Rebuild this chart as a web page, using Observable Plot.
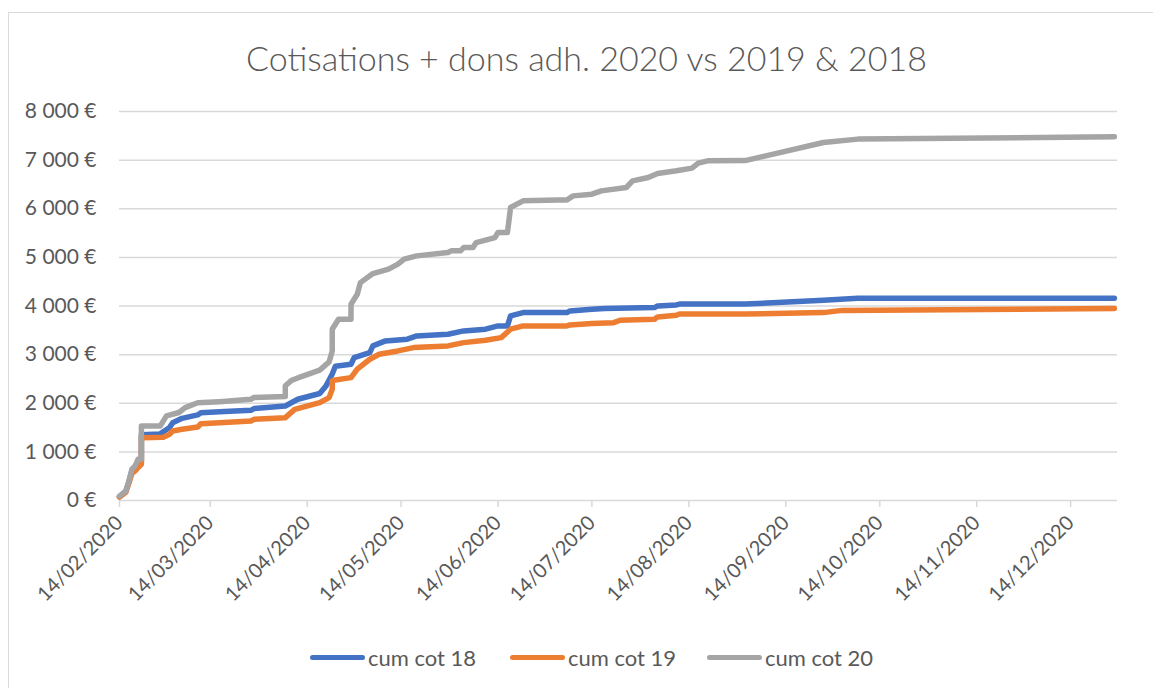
<!DOCTYPE html>
<html>
<head>
<meta charset="utf-8">
<script src="https://cdn.jsdelivr.net/npm/d3@7"></script>
<script src="https://cdn.jsdelivr.net/npm/@observablehq/plot@0.6"></script>
<style>
  html, body { margin: 0; padding: 0; background: #fff; }
  body { width: 1153px; height: 688px; overflow: hidden; position: relative; font-family: Lato, "Noto Sans", sans-serif; color: #595959; }
  #frame { position: absolute; left: 8px; top: 12px; width: 1300px; height: 900px; border-left: 1px solid #d9d9d9; border-top: 1px solid #d9d9d9; }
  #chart { position: absolute; left: 0; top: 0; }
  #title { position: absolute; left: 10px; top: 38px; width: 1153px; text-align: center; font-size: 34px; font-weight: 300; line-height: 40px; white-space: nowrap; }
  .leg { position: absolute; top: 643px; height: 28px; display: flex; align-items: center; font-size: 22px; white-space: nowrap; }
  .sw { width: 55px; height: 5px; border-radius: 3px; margin-right: 3px; }
</style>
</head>
<body>
<div id="frame"></div>
<div id="chart"></div>
<div id="title">Cotisations + dons adh. 2020 vs 2019 &amp; 2018</div>
<div id="legend"></div>
<script>
// ---- data ----
const seriesNames = ["cum cot 18", "cum cot 19", "cum cot 20"];
const seriesColors = ["#4472C4", "#ED7D31", "#A5A5A5"];

const cumCot18 = [
  ["2020-02-14",80],["2020-02-16",180],["2020-02-17",380],["2020-02-18",620],["2020-02-19",690],
  ["2020-02-20",780],["2020-02-21",800],["2020-02-21",1350],["2020-02-27",1370],["2020-03-01",1500],
  ["2020-03-02",1600],["2020-03-05",1690],["2020-03-10",1760],["2020-03-11",1805],["2020-03-17",1827],
  ["2020-03-27",1855],["2020-03-28",1890],["2020-04-07",1944],["2020-04-11",2082],["2020-04-18",2200],
  ["2020-04-20",2356],["2020-04-22",2600],["2020-04-23",2760],["2020-04-28",2802],["2020-04-29",2939],
  ["2020-05-04",3042],["2020-05-05",3179],["2020-05-09",3282],["2020-05-16",3317],["2020-05-19",3385],
  ["2020-05-29",3420],["2020-06-03",3488],["2020-06-10",3523],["2020-06-14",3591],["2020-06-17",3591],
  ["2020-06-18",3796],["2020-06-22",3864],["2020-07-06",3864],["2020-07-07",3899],["2020-07-14",3934],
  ["2020-07-18",3947],["2020-08-03",3967],["2020-08-04",4002],["2020-08-10",4022],["2020-08-11",4040],
  ["2020-09-01",4040],["2020-09-26",4119],["2020-10-07",4160],["2020-12-28",4160]
];

const cumCot19 = [
  ["2020-02-14",70],["2020-02-16",170],["2020-02-17",360],["2020-02-18",560],["2020-02-19",610],
  ["2020-02-20",680],["2020-02-21",745],["2020-02-21",1290],["2020-02-28",1300],["2020-03-01",1360],
  ["2020-03-02",1430],["2020-03-05",1465],["2020-03-10",1510],["2020-03-11",1580],["2020-03-17",1601],
  ["2020-03-27",1635],["2020-03-28",1670],["2020-04-07",1704],["2020-04-10",1875],["2020-04-18",2012],
  ["2020-04-21",2115],["2020-04-22",2290],["2020-04-22",2459],["2020-04-23",2480],["2020-04-28",2527],
  ["2020-04-30",2700],["2020-05-04",2905],["2020-05-07",3008],["2020-05-13",3076],["2020-05-18",3145],
  ["2020-05-29",3179],["2020-06-03",3247],["2020-06-10",3296],["2020-06-15",3350],["2020-06-18",3523],
  ["2020-06-22",3591],["2020-07-06",3591],["2020-07-07",3611],["2020-07-14",3638],["2020-07-21",3658],
  ["2020-07-23",3707],["2020-08-03",3728],["2020-08-04",3776],["2020-08-10",3810],["2020-08-11",3835],
  ["2020-09-01",3835],["2020-09-26",3864],["2020-10-02",3910],["2020-12-28",3947]
];

const cumCot20 = [
  ["2020-02-14",90],["2020-02-16",195],["2020-02-17",400],["2020-02-18",650],["2020-02-19",710],
  ["2020-02-20",855],["2020-02-21",855],["2020-02-21",1530],["2020-02-27",1530],["2020-02-29",1740],
  ["2020-03-04",1810],["2020-03-06",1910],["2020-03-10",2010],["2020-03-17",2033],["2020-03-27",2080],
  ["2020-03-28",2120],["2020-04-07",2140],["2020-04-07",2360],["2020-04-09",2470],["2020-04-11",2520],
  ["2020-04-18",2680],["2020-04-21",2850],["2020-04-22",3076],["2020-04-22",3522],["2020-04-24",3728],
  ["2020-04-28",3728],["2020-04-28",4037],["2020-04-30",4243],["2020-05-01",4481],["2020-05-05",4667],
  ["2020-05-10",4757],["2020-05-13",4860],["2020-05-15",4963],["2020-05-19",5031],["2020-05-29",5100],
  ["2020-05-30",5134],["2020-06-02",5134],["2020-06-03",5202],["2020-06-06",5202],["2020-06-07",5305],
  ["2020-06-13",5408],["2020-06-14",5511],["2020-06-17",5511],["2020-06-18",6025],["2020-06-22",6163],
  ["2020-07-03",6180],["2020-07-06",6180],["2020-07-08",6265],["2020-07-14",6300],["2020-07-17",6368],
  ["2020-07-25",6437],["2020-07-27",6574],["2020-08-01",6642],["2020-08-04",6724],["2020-08-10",6780],
  ["2020-08-15",6835],["2020-08-17",6938],["2020-08-20",6985],["2020-09-01",6990],["2020-09-26",7362],
  ["2020-10-07",7432],["2020-12-28",7480]
];

const xDomain = ["2020-02-14", "2020-12-29"];
const xTickLabels = ["14/02/2020","14/03/2020","14/04/2020","14/05/2020","14/06/2020","14/07/2020",
                     "14/08/2020","14/09/2020","14/10/2020","14/11/2020","14/12/2020"];
const yTicks = [0, 1000, 2000, 3000, 4000, 5000, 6000, 7000, 8000];

// ---- build ----
const parse = d3.utcParse("%Y-%m-%d");
const parseLabel = d3.utcParse("%d/%m/%Y");
const fmtLabel = d3.utcFormat("%d/%m/%Y");
const xTicks = xTickLabels.map(parseLabel);
const allSeries = [cumCot18, cumCot19, cumCot20];
const rows = allSeries.flatMap((s, i) => s.map(([d, v]) => ({date: parse(d), value: v, series: seriesNames[i]})));
const yFmt = v => (v === 0 ? "0" : d3.format(",")(v).replace(/,/g, "\u00a0")) + "\u00a0€";

const chart = Plot.plot({
  width: 1153,
  height: 688,
  marginLeft: 119,
  marginRight: 36,
  marginTop: 111,
  marginBottom: 188,
  style: {fontFamily: "Lato, 'Noto Sans', sans-serif", fontSize: "21px", color: "#595959", background: "transparent"},
  x: {type: "utc", domain: xDomain.map(parse)},
  y: {domain: [0, 8000]},
  color: {domain: seriesNames, range: seriesColors},
  marks: [
    Plot.gridY(yTicks.filter(v => v > 0), {stroke: "#d9d9d9", strokeOpacity: 1, strokeWidth: 1.5}),
    Plot.ruleY([0], {stroke: "#d9d9d9", strokeWidth: 1.5}),
    Plot.axisY({ticks: yTicks, tickFormat: yFmt, tickSize: 0, tickPadding: 23, label: null, fill: "#595959", fontSize: 21}),
    Plot.axisX({ticks: xTicks, tickFormat: fmtLabel, tickRotate: -45, tickSize: 7, tickPadding: 12, label: null,
                stroke: "#d9d9d9", strokeWidth: 1.5, fill: "#595959", fontSize: 20}),
    ...seriesNames.map((name, i) => Plot.line(rows.filter(r => r.series === name), {
      x: "date", y: "value", stroke: seriesColors[i], strokeWidth: 5.5,
      strokeLinejoin: "round", strokeLinecap: "round"
    }))
  ]
});
document.getElementById("chart").appendChild(chart);

// legend
const legendX = [310, 510, 707];
const legend = document.getElementById("legend");
seriesNames.forEach((name, i) => {
  const item = document.createElement("div");
  item.className = "leg";
  item.style.left = legendX[i] + "px";
  item.innerHTML = `<div class="sw" style="background:${seriesColors[i]}"></div><span>${name}</span>`;
  legend.appendChild(item);
});
</script>
</body>
</html>
